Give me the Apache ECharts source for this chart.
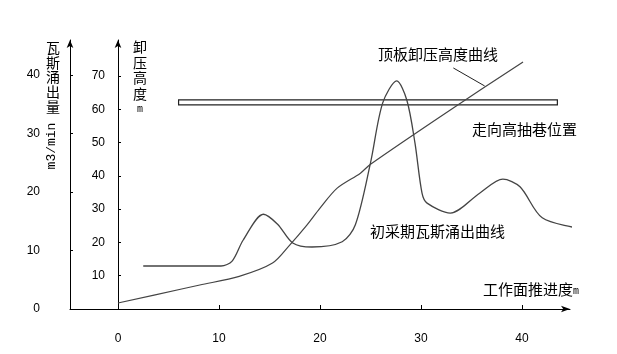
<!DOCTYPE html>
<html>
<head>
<meta charset="utf-8">
<script src="https://cdn.jsdelivr.net/npm/echarts@6/dist/echarts.min.js"></script>
<style>html,body{margin:0;padding:0;background:#fff}#c{width:617px;height:354px}</style>
</head>
<body>
<div id="c"></div>
<script>
// Gas emission curve (m3/min) vs. face advance (m)
var gasX = [2.5, 10.2, 11.3, 12.4, 14.4, 15.8, 17.3, 19.2, 22.2, 23.5, 25.0, 26.2, 27.6, 28.6, 29.4, 30.1, 30.6, 32.9, 35.8, 38.1, 39.8, 42.0, 45.7];
var gasY = [7.35, 7.35, 8.2, 11.8, 16.2, 14.5, 11.3, 10.6, 11.5, 14.4, 25.0, 35.2, 39.0, 35.7, 28.4, 19.8, 18.1, 16.4, 19.8, 22.2, 20.9, 15.6, 13.8];
// Roof pressure-relief height curve (m)
var hX = [0, 6.3, 8.1, 12.0, 15.3, 17.0, 18.7, 20.0, 21.7, 24.0, 25.0, 32.9, 40.1];
var hY = [1.8, 6.0, 7.2, 9.8, 13.8, 19.2, 25.2, 30.3, 36.3, 40.8, 43.5, 59.8, 74.2];
// High drainage roadway position (height band, m) and extent along advance
var roadX = [6.0, 43.5];
var roadH = [61.3, 62.8];
// Leader line for the relief-height label
var leaderX = [33.2, 36.3];
var leaderH = [72.4, 67.0];
// Tick labels
var xTicks = [0, 10, 20, 30, 40];
var gasTicks = [0, 10, 20, 30, 40];
var hTicks = [10, 20, 30, 40, 50, 60, 70];

function pairs(xs, ys) { return xs.map(function (x, i) { return [x, ys[i]]; }); }

var numFont = 'Liberation Sans, Noto Sans CJK SC, sans-serif';
var cjk = 'Noto Sans CJK SC, sans-serif';
var chart = echarts.init(document.getElementById('c'), null, { renderer: 'canvas' });
chart.setOption({
  animation: false,
  backgroundColor: '#fff',
  grid: { left: 70, right: 47, top: 40, bottom: 45, containLabel: false, outerBoundsMode: 'none' },
  xAxis: {
    type: 'value', min: -4.75, max: 44.75,
    axisLine: { onZero: false, lineStyle: { color: '#000', width: 1 }, symbol: ['none', 'arrow'], symbolSize: [5, 9] },
    axisTick: { inside: true, length: 4, lineStyle: { color: '#000' }, customValues: [10, 20, 30, 40] },
    axisLabel: { customValues: xTicks, margin: 24, color: '#000', fontSize: 12, fontFamily: numFont },
    splitLine: { show: false }
  },
  yAxis: [
    {
      type: 'value', min: 0, max: 46, position: 'left',
      axisLine: { show: true, onZero: false, lineStyle: { color: '#000', width: 1 }, symbol: ['none', 'arrow'], symbolSize: [5, 8] },
      axisTick: { show: true, inside: true, length: 3, lineStyle: { color: '#000' }, customValues: [10, 20, 30, 40] },
      axisLabel: { customValues: gasTicks, margin: 30, color: '#000', fontSize: 12, fontFamily: numFont },
      splitLine: { show: false }
    },
    {
      type: 'value', min: 0, max: 80.8, position: 'left', offset: -48,
      axisLine: { show: true, onZero: false, lineStyle: { color: '#000', width: 1 }, symbol: ['none', 'arrow'], symbolSize: [5, 8] },
      axisTick: { show: true, inside: true, length: 3, lineStyle: { color: '#000' }, customValues: hTicks },
      axisLabel: { customValues: hTicks, margin: 13, color: '#000', fontSize: 12, fontFamily: numFont },
      splitLine: { show: false }
    }
  ],
  series: [
    {
      type: 'line', name: '初采期瓦斯涌出曲线', yAxisIndex: 0, data: pairs(gasX, gasY),
      showSymbol: false, smooth: 0.3, clip: false,
      lineStyle: { color: '#444', width: 1.3 }
    },
    {
      type: 'line', name: '顶板卸压高度曲线', yAxisIndex: 1, data: pairs(hX, hY),
      showSymbol: false, smooth: 0.3, clip: false,
      lineStyle: { color: '#444', width: 1.2 },
      markArea: {
        silent: true,
        itemStyle: { color: 'rgba(0,0,0,0)', borderColor: '#222', borderWidth: 1.2 },
        data: [[{ coord: [roadX[0], roadH[0]] }, { coord: [roadX[1], roadH[1]] }]]
      },
      markLine: {
        silent: true, symbol: ['none', 'none'], label: { show: false },
        lineStyle: { color: '#222', width: 1, type: 'solid' },
        data: [[{ coord: [leaderX[0], leaderH[0]] }, { coord: [leaderX[1], leaderH[1]] }]]
      }
    }
  ],
  graphic: [
    { type: 'text', style: { text: '瓦\n斯\n涌\n出\n量', x: 53, y: 40, textAlign: 'center', font: '14px ' + cjk, lineHeight: 14.8, fill: '#000' } },
    { type: 'text', rotation: Math.PI / 2, x: 52, y: 146, style: { text: 'm3/min', x: 0, y: 0, textAlign: 'center', textVerticalAlign: 'middle', font: '13px Liberation Mono, monospace', fill: '#000' } },
    { type: 'text', style: { text: '卸\n压\n高\n度', x: 140, y: 39, textAlign: 'center', font: '14px ' + cjk, lineHeight: 15.5, fill: '#000' } },
    { type: 'text', style: { text: 'm', x: 140, y: 109, textAlign: 'center', textVerticalAlign: 'middle', font: '10px Liberation Mono, monospace', fill: '#000' } },
    { type: 'text', style: { text: '顶板卸压高度曲线', x: 378, y: 54, textVerticalAlign: 'middle', font: '15px ' + cjk, fill: '#000' } },
    { type: 'text', style: { text: '走向高抽巷位置', x: 472, y: 129, textVerticalAlign: 'middle', font: '15px ' + cjk, fill: '#000' } },
    { type: 'text', style: { text: '初采期瓦斯涌出曲线', x: 370, y: 231, textVerticalAlign: 'middle', font: '15px ' + cjk, fill: '#000' } },
    { type: 'text', style: { text: '{a|工作面推进度}{b|m}', x: 483, y: 289, textVerticalAlign: 'middle', fill: '#000',
      rich: { a: { font: '15px ' + cjk, fill: '#000' }, b: { font: '10px Liberation Mono, monospace', fill: '#000', verticalAlign: 'bottom' } } } }
  ]
});
</script>
</body>
</html>
